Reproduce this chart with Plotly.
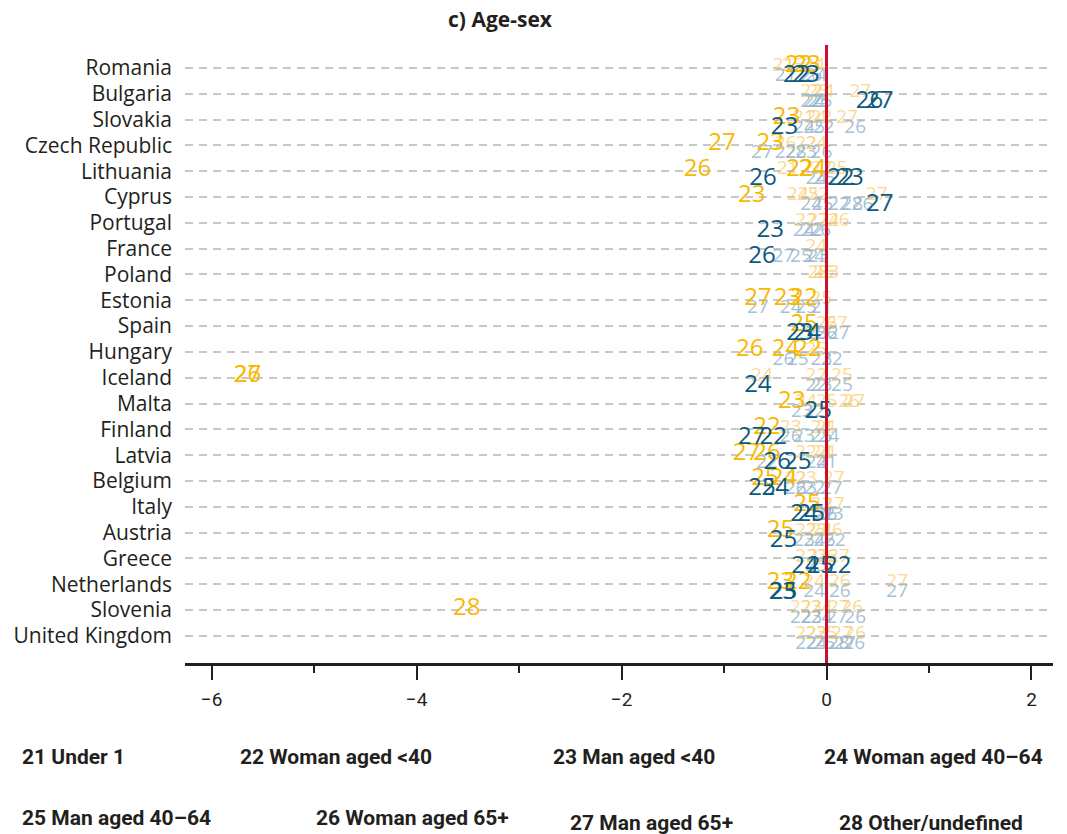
import plotly.graph_objects as go

countries = ["Romania", "Bulgaria", "Slovakia", "Czech Republic", "Lithuania", "Cyprus",
             "Portugal", "France", "Poland", "Estonia", "Spain", "Hungary", "Iceland",
             "Malta", "Finland", "Latvia", "Belgium", "Italy", "Austria", "Greece",
             "Netherlands", "Slovenia", "United Kingdom"]

legend_labels = ["21 Under 1", "22 Woman aged <40", "23 Man aged <40", "24 Woman aged 40\u201364",
                 "25 Man aged 40\u201364", "26 Woman aged 65+", "27 Man aged 65+", "28 Other/undefined"]

# (country, category code, estimate) -- yellow series, highlighted
yellow_strong = [
    ("Romania", 22, -0.27), ("Romania", 23, -0.19),
    ("Slovakia", 23, -0.39),
    ("Czech Republic", 27, -1.02), ("Czech Republic", 23, -0.55),
    ("Lithuania", 26, -1.26), ("Lithuania", 22, -0.26), ("Lithuania", 24, -0.14),
    ("Cyprus", 23, -0.73),
    ("Estonia", 27, -0.67), ("Estonia", 23, -0.38), ("Estonia", 22, -0.22),
    ("Spain", 25, -0.22),
    ("Hungary", 26, -0.75), ("Hungary", 24, -0.40), ("Hungary", 22, -0.18),
    ("Iceland", 27, -5.65), ("Iceland", 26, -5.65),
    ("Malta", 23, -0.34),
    ("Finland", 22, -0.58),
    ("Latvia", 27, -0.78), ("Latvia", 26, -0.58),
    ("Belgium", 25, -0.60), ("Belgium", 24, -0.42),
    ("Italy", 25, -0.19),
    ("Austria", 25, -0.45),
    ("Netherlands", 23, -0.45), ("Netherlands", 22, -0.28),
    ("Slovenia", 28, -3.51),
]

# yellow series, not highlighted
yellow_weak = [
    ("Romania", 21, -0.42), ("Romania", 24, -0.12), ("Romania", 25, -0.33),
    ("Bulgaria", 27, 0.33), ("Bulgaria", 22, -0.15), ("Bulgaria", 23, -0.08), ("Bulgaria", 24, -0.03),
    ("Slovakia", 21, -0.22), ("Slovakia", 22, -0.05), ("Slovakia", 24, -0.10), ("Slovakia", 27, 0.20),
    ("Czech Republic", 26, -0.40), ("Czech Republic", 22, -0.20), ("Czech Republic", 24, -0.10),
    ("Lithuania", 21, -0.38), ("Lithuania", 25, 0.10), ("Lithuania", 27, -0.05),
    ("Cyprus", 24, -0.28), ("Cyprus", 25, -0.18), ("Cyprus", 22, -0.08), ("Cyprus", 27, 0.49),
    ("Portugal", 22, -0.20), ("Portugal", 27, -0.08), ("Portugal", 24, 0.02), ("Portugal", 26, 0.12),
    ("France", 24, -0.10),
    ("Poland", 28, -0.08), ("Poland", 23, 0.02), ("Poland", 26, -0.03),
    ("Estonia", 25, -0.05),
    ("Spain", 27, 0.10), ("Spain", 26, 0.00),
    ("Hungary", 25, -0.10),
    ("Iceland", 24, -0.63), ("Iceland", 22, -0.10), ("Iceland", 25, 0.15),
    ("Malta", 24, -0.20), ("Malta", 25, 0.00), ("Malta", 26, 0.22), ("Malta", 27, 0.27),
    ("Finland", 23, -0.35), ("Finland", 24, -0.05), ("Finland", 21, 0.00),
    ("Latvia", 22, -0.20), ("Latvia", 24, -0.05), ("Latvia", 21, 0.00),
    ("Belgium", 22, -0.30), ("Belgium", 23, -0.20), ("Belgium", 27, 0.07),
    ("Italy", 27, 0.07), ("Italy", 22, -0.05),
    ("Austria", 22, -0.20), ("Austria", 23, -0.10), ("Austria", 24, -0.05), ("Austria", 26, 0.05),
    ("Greece", 22, -0.20), ("Greece", 23, -0.08), ("Greece", 27, 0.12), ("Greece", 26, 0.00),
    ("Netherlands", 24, -0.12), ("Netherlands", 26, 0.13), ("Netherlands", 27, 0.69),
    ("Slovenia", 22, -0.25), ("Slovenia", 23, -0.15), ("Slovenia", 24, -0.05), ("Slovenia", 27, 0.12), ("Slovenia", 26, 0.25),
    ("United Kingdom", 22, -0.20), ("United Kingdom", 23, -0.10), ("United Kingdom", 25, 0.00),
    ("United Kingdom", 27, 0.15), ("United Kingdom", 26, 0.28),
]

# blue series, highlighted
blue_strong = [
    ("Romania", 22, -0.29), ("Romania", 23, -0.20),
    ("Bulgaria", 26, 0.42), ("Bulgaria", 27, 0.52),
    ("Slovakia", 23, -0.41),
    ("Lithuania", 26, -0.62), ("Lithuania", 22, 0.14), ("Lithuania", 23, 0.23),
    ("Cyprus", 27, 0.52),
    ("Portugal", 23, -0.55),
    ("France", 26, -0.63),
    ("Spain", 23, -0.26), ("Spain", 24, -0.19),
    ("Iceland", 24, -0.67),
    ("Malta", 25, -0.08),
    ("Finland", 27, -0.73), ("Finland", 22, -0.52),
    ("Latvia", 26, -0.48), ("Latvia", 25, -0.28),
    ("Belgium", 25, -0.63), ("Belgium", 24, -0.50),
    ("Italy", 24, -0.22), ("Italy", 25, -0.15),
    ("Austria", 25, -0.42),
    ("Greece", 24, -0.21), ("Greece", 25, -0.06), ("Greece", 22, 0.11),
    ("Netherlands", 25, -0.42), ("Netherlands", 23, -0.43),
]

# blue series, not highlighted
blue_weak = [
    ("Romania", 21, -0.40), ("Romania", 24, -0.10), ("Romania", 26, -0.15),
    ("Bulgaria", 24, -0.12), ("Bulgaria", 25, -0.05), ("Bulgaria", 22, -0.15), ("Bulgaria", 23, -0.08),
    ("Slovakia", 24, -0.22), ("Slovakia", 25, -0.12), ("Slovakia", 22, -0.03), ("Slovakia", 26, 0.28),
    ("Czech Republic", 27, -0.63), ("Czech Republic", 22, -0.40), ("Czech Republic", 28, -0.30),
    ("Czech Republic", 23, -0.20), ("Czech Republic", 26, -0.05),
    ("Lithuania", 24, -0.10), ("Lithuania", 25, -0.02),
    ("Cyprus", 24, -0.15), ("Cyprus", 25, -0.04), ("Cyprus", 22, 0.12), ("Cyprus", 28, 0.25), ("Cyprus", 26, 0.35),
    ("Portugal", 24, -0.22), ("Portugal", 22, -0.14), ("Portugal", 26, -0.06),
    ("France", 27, -0.42), ("France", 25, -0.25), ("France", 24, -0.12), ("France", 23, -0.08),
    ("Estonia", 27, -0.67), ("Estonia", 24, -0.35), ("Estonia", 25, -0.20), ("Estonia", 21, -0.05),
    ("Spain", 26, 0.00), ("Spain", 27, 0.12), ("Spain", 25, -0.10),
    ("Hungary", 26, -0.42), ("Hungary", 25, -0.28), ("Hungary", 23, -0.05), ("Hungary", 22, 0.05),
    ("Iceland", 23, -0.05), ("Iceland", 25, 0.15), ("Iceland", 22, -0.10),
    ("Malta", 23, -0.24), ("Malta", 22, -0.12),
    ("Finland", 26, -0.35), ("Finland", 23, -0.22), ("Finland", 25, -0.05), ("Finland", 24, 0.02),
    ("Latvia", 22, -0.58), ("Latvia", 24, -0.10), ("Latvia", 21, 0.00),
    ("Belgium", 26, -0.30), ("Belgium", 23, -0.20), ("Belgium", 22, -0.12), ("Belgium", 27, 0.05),
    ("Italy", 22, -0.02), ("Italy", 23, 0.06), ("Italy", 26, 0.00),
    ("Austria", 23, -0.22), ("Austria", 24, -0.12), ("Austria", 26, -0.02), ("Austria", 22, 0.08),
    ("Greece", 23, -0.10),
    ("Netherlands", 24, -0.12), ("Netherlands", 26, 0.13), ("Netherlands", 27, 0.69),
    ("Slovenia", 22, -0.25), ("Slovenia", 23, -0.15), ("Slovenia", 24, -0.05), ("Slovenia", 27, 0.10), ("Slovenia", 26, 0.28),
    ("United Kingdom", 22, -0.20), ("United Kingdom", 24, -0.10), ("United Kingdom", 25, -0.02),
    ("United Kingdom", 28, 0.12), ("United Kingdom", 27, 0.18), ("United Kingdom", 26, 0.27),
]

row = {c: i for i, c in enumerate(countries)}
NUM_FONT = "Open Sans, Noto Sans, sans-serif"


def text_trace(points, color, dy, size):
    return go.Scatter(
        x=[v for _, _, v in points],
        y=[row[c] + dy for c, _, _ in points],
        text=[str(k) for _, k, _ in points],
        mode="text",
        textposition="middle center",
        textfont=dict(family=NUM_FONT, size=size, color=color),
        cliponaxis=False,
        hoverinfo="skip",
        showlegend=False,
    )


fig = go.Figure()
fig.add_trace(text_trace(yellow_weak, "rgba(250,205,110,0.75)", -0.06, 19))
fig.add_trace(text_trace(blue_weak, "rgba(150,182,205,0.85)", 0.32, 19))
fig.add_trace(text_trace(yellow_strong, "#F9B800", -0.06, 24))
fig.add_trace(text_trace(blue_strong, "#0B5A7E", 0.32, 24))

# reference line at zero
fig.add_shape(type="line", x0=0, x1=0, xref="x", y0=0, y1=1, yref="paper",
              line=dict(color="#C8102E", width=3), layer="above")

fig.update_xaxes(
    range=[-6.26, 2.21], tickvals=[-6, -4, -2, 0, 2], showgrid=False, zeroline=False,
    showline=True, linecolor="#231F20", linewidth=2.5,
    ticks="outside", ticklen=14, tickwidth=2, tickcolor="#231F20",
    minor=dict(dtick=1, ticks="outside", ticklen=7, tickwidth=2, tickcolor="#231F20", showgrid=False),
    tickfont=dict(family="Roboto, sans-serif", size=19, color="#231F20"),
    ticklabelstandoff=3,
)
fig.update_yaxes(
    range=[23.05, -0.89], tickvals=list(range(len(countries))), ticktext=countries,
    showgrid=True, gridcolor="#C8C8C8", gridwidth=1.5, griddash="8px,6px",
    zeroline=False, showline=False, ticks="",
    tickfont=dict(family="Open Sans, Noto Sans, sans-serif", size=21, color="#231F20"),
    ticklabelstandoff=12,
)

# legend key: rows of bold labels below the axis (pixel anchors converted to plot-area fractions)
PLOT_L, PLOT_W, PLOT_B, PLOT_H = 185, 868, 663, 618
LEG_FONT = dict(family="Roboto, sans-serif", size=21, color="#231F20")
leg_pos = [(20, 757), (238, 757), (551, 757), (822, 757),
           (20, 818), (314, 818), (568, 823), (837, 823)]
W, H = 1067, 834
for label, (px, py) in zip(legend_labels, leg_pos):
    fig.add_annotation(text="<b>" + label + "</b>",
                       x=(px - PLOT_L) / PLOT_W, y=(PLOT_B - py) / PLOT_H,
                       xref="paper", yref="paper",
                       xanchor="left", yanchor="middle", showarrow=False, font=LEG_FONT)

fig.update_layout(
    width=W, height=H,
    margin=dict(l=185, r=14, t=45, b=171),
    plot_bgcolor="white", paper_bgcolor="white",
    title=dict(text="<b>c) Age-sex</b>", xref="container", yref="container",
               x=500 / W, xanchor="center", y=1 - 20 / H, yanchor="middle",
               font=dict(family="Open Sans, Noto Sans, sans-serif", size=21, color="#231F20")),
)

fig.write_html("out.html")
